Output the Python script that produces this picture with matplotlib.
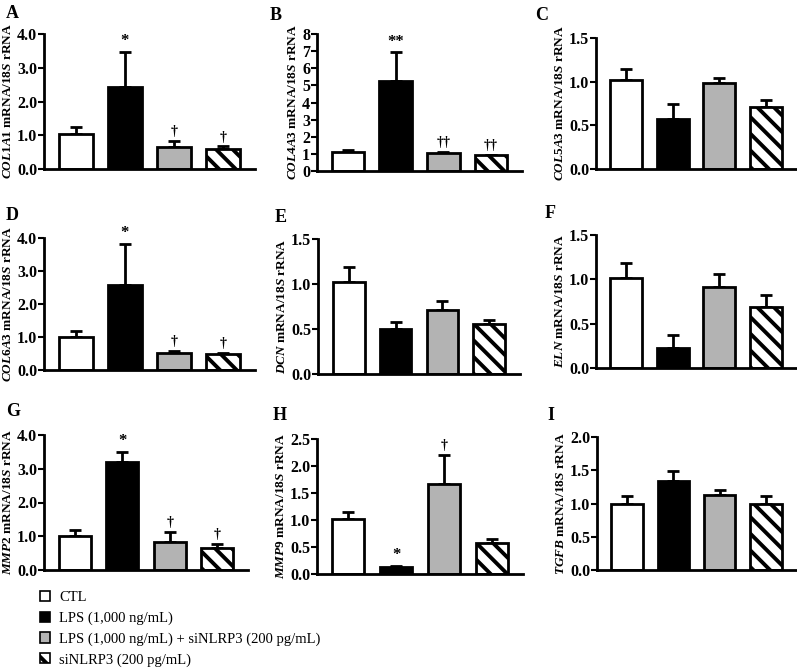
from matplotlib import pyplot as plt
from matplotlib.patches import Patch
import numpy as np

# Settings
plt.rcParams['font.family'] = 'Liberation Serif'
plt.rcParams['mathtext.fontset'] = 'custom'
plt.rcParams['mathtext.rm'] = 'Liberation Serif:bold'
plt.rcParams['mathtext.it'] = 'Liberation Serif:italic:bold'
plt.rcParams['hatch.linewidth'] = 2.8

W, H = 797, 669

# Data
groups = ['CTL', 'LPS (1,000 ng/mL)', 'LPS (1,000 ng/mL) + siNLRP3 (200 pg/mL)', 'siNLRP3 (200 pg/mL)']
letters = ['A', 'B', 'C', 'D', 'E', 'F', 'G', 'H', 'I']
genes = ['COL1A1', 'COL4A3', 'COL5A3', 'COL6A3', 'DCN', 'ELN', 'MMP2', 'MMP9', 'TGFB']

means = [
    [1.03, 2.42, 0.64, 0.60],
    [1.10, 5.28, 1.04, 0.92],
    [1.015, 0.57, 0.98, 0.71],
    [1.01, 2.57, 0.51, 0.48],
    [1.02, 0.50, 0.71, 0.56],
    [1.02, 0.225, 0.91, 0.69],
    [1.01, 3.19, 0.82, 0.66],
    [1.01, 0.13, 1.67, 0.58],
    [0.99, 1.34, 1.13, 0.99],
]
errors = [
    [0.20, 1.04, 0.20, 0.07],
    [0.11, 1.65, 0.06, 0.04],
    [0.135, 0.18, 0.06, 0.08],
    [0.17, 1.24, 0.06, 0.05],
    [0.17, 0.08, 0.10, 0.04],
    [0.16, 0.15, 0.155, 0.135],
    [0.18, 0.30, 0.32, 0.11],
    [0.13, 0.025, 0.53, 0.07],
    [0.13, 0.15, 0.07, 0.13],
]
marks = [
    ['', '*', '†', '†'],
    ['', '**', '††', '††'],
    ['', '', '', ''],
    ['', '*', '†', '†'],
    ['', '', '', ''],
    ['', '', '', ''],
    ['', '*', '†', '†'],
    ['', '*', '†', ''],
    ['', '', '', ''],
]
yMax = [4.0, 8, 1.5, 4.0, 1.5, 1.5, 4.0, 2.5, 2.0]
yStep = [1.0, 1, 0.5, 1.0, 0.5, 0.5, 1.0, 0.5, 0.5]
yFmt = ['%.1f', '%d', '%.1f', '%.1f', '%.1f', '%.1f', '%.1f', '%.1f', '%.1f']

# Layout (pixels: left, top, width, height)
rects = [
    (44, 34, 211, 135), (317, 34, 205, 137), (596, 38, 200, 131),
    (44, 238, 211, 132), (318, 239, 202, 135), (596, 235, 200, 133),
    (44, 435, 204, 135), (317, 439, 206, 135), (597, 437, 199, 133),
]
letterPos = [(6, 5), (270, 7), (535, 7), (6, 207), (275, 209), (545, 205), (6, 403), (273, 407), (547, 407)]

faces = ['white', 'black', '#b3b3b3', 'white']
hatches = [None, None, None, '\\\\']

fig = plt.figure(figsize = (W / 100, H / 100), dpi = 100)

for q in range(9):
    l, t, w, h = rects[q]
    ax = fig.add_axes([l / W, 1 - (t + h) / H, w / W, h / H])
    x = np.arange(4)

    ax.errorbar(x, means[q], yerr = [np.zeros(4), errors[q]], fmt = 'none', ecolor = 'black',
                elinewidth = 2, capsize = 4, capthick = 2, zorder = 1)
    ax.bar(x, means[q], width = 0.68, color = faces, edgecolor = 'black', linewidth = 2,
           hatch = hatches, zorder = 2)

    for k in range(4):
        if marks[q][k]:
            ax.annotate(marks[q][k], (x[k], means[q][k] + errors[q][k]), xytext = (0, 2),
                        textcoords = 'offset points', ha = 'center', va = 'bottom',
                        fontsize = 12 if '*' in marks[q][k] else 10, fontweight = 'bold')

    ax.set_xlim(-0.65, 3.65)
    ax.set_ylim(0, yMax[q])
    ticks = np.arange(0, yMax[q] + yStep[q] / 2, yStep[q])
    ax.set_yticks(ticks)
    ax.set_yticklabels([yFmt[q] % v for v in ticks], fontsize = 11.5, fontweight = 'bold')
    ax.set_xticks([])

    for side in ['top', 'right']:
        ax.spines[side].set_visible(False)
    for side in ['left', 'bottom']:
        ax.spines[side].set_linewidth(2)
    ax.tick_params(axis = 'y', width = 1.5, length = 4, pad = 1)

    ax.set_ylabel(r'$\mathit{' + genes[q] + r'}$ mRNA/$\mathit{18S}$ rRNA', fontsize = 9.5,
                  fontweight = 'bold', labelpad = 2)

    lx, ly = letterPos[q]
    fig.text(lx / W, 1 - ly / H, letters[q], fontsize = 13, fontweight = 'bold', va = 'top')

# Legend
handles = [Patch(facecolor = faces[k], edgecolor = 'black', linewidth = 1.2, hatch = hatches[k]) for k in range(4)]
fig.legend(handles, groups, loc = 'upper left', bbox_to_anchor = (40 / W, 1 - 591 / H), frameon = False,
           fontsize = 10.5, handlelength = 0.7, handleheight = 0.7, handletextpad = 0.6, labelspacing = 0.5,
           borderpad = 0, borderaxespad = 0)

plt.savefig('out.png', dpi = 100)
